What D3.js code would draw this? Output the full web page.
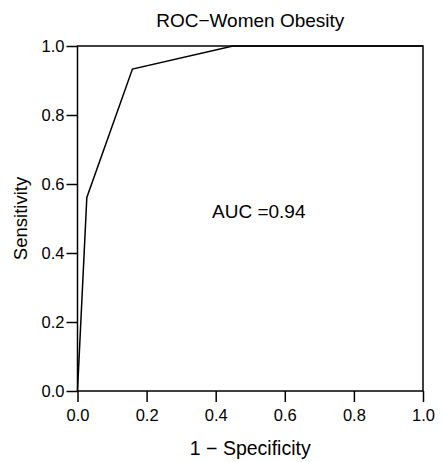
<!DOCTYPE html>
<html>
<head>
<meta charset="utf-8">
<script src="https://cdn.jsdelivr.net/npm/d3@7"></script>
<style>
  body { margin: 0; background: #fff; }
  text { font-family: "Liberation Sans", Arial, sans-serif; fill: #000; }
  .axis path, .axis line { stroke: #000; stroke-width: 1.5; }
  .axis text { font-size: 16.5px; }
</style>
</head>
<body>
<svg id="chart" width="442" height="462"></svg>
<script>
/* ROC points */
var fpr = [0, 0.027, 0.159, 0.45, 1];
var tpr = [0, 0.561, 0.933, 1, 1];
var tickVals = [0, 0.2, 0.4, 0.6, 0.8, 1.0];
var title = "ROC\u2212Women Obesity";
var xLabel = "1 \u2212 Specificity";
var yLabel = "Sensitivity";
var aucText = "AUC =0.94";

var svg = d3.select("#chart");

/* plot box */
var margin = {top: 46, right: 19, bottom: 71, left: 77.5},
    width = 442 - margin.left - margin.right,
    height = 462 - margin.top - margin.bottom;

var g = svg.append("g")
    .attr("transform", "translate(" + margin.left + "," + margin.top + ")");

var x = d3.scaleLinear().domain([0, 1]).range([0, width]);
var y = d3.scaleLinear().domain([0, 1]).range([height, 0]);

var data = fpr.map(function(d, i) { return {x: d, y: tpr[i]}; });

g.append("g")
    .attr("class", "axis")
    .attr("transform", "translate(0," + height + ")")
    .call(d3.axisBottom(x).tickValues(tickVals).tickFormat(d3.format(".1f")).tickSize(11).tickSizeOuter(0).tickPadding(7));

g.append("g")
    .attr("class", "axis")
    .call(d3.axisLeft(y).tickValues(tickVals).tickFormat(d3.format(".1f")).tickSize(11).tickSizeOuter(0).tickPadding(2));

g.selectAll(".axis .domain").remove();

/* frame */
g.append("rect")
    .attr("width", width)
    .attr("height", height)
    .attr("fill", "none")
    .attr("stroke", "#000")
    .attr("stroke-width", 1.5);

var line = d3.line()
    .x(function(d) { return x(d.x); })
    .y(function(d) { return y(d.y); });

g.append("path")
    .datum(data)
    .attr("d", line)
    .attr("fill", "none")
    .attr("stroke", "#000")
    .attr("stroke-width", 1.5);

g.append("text")
    .attr("x", 212 - margin.left)
    .attr("y", 218 - margin.top)
    .attr("font-size", "19px")
    .text(aucText);

svg.append("text")
    .attr("x", margin.left + width / 2)
    .attr("y", 27)
    .attr("text-anchor", "middle")
    .attr("font-size", "19px")
    .text(title);

svg.append("text")
    .attr("x", margin.left + width / 2)
    .attr("y", 455)
    .attr("text-anchor", "middle")
    .attr("font-size", "19.5px")
    .text(xLabel);

svg.append("text")
    .attr("transform", "translate(27," + (margin.top + height / 2) + ") rotate(-90)")
    .attr("text-anchor", "middle")
    .attr("font-size", "18.5px")
    .text(yLabel);
</script>
</body>
</html>
